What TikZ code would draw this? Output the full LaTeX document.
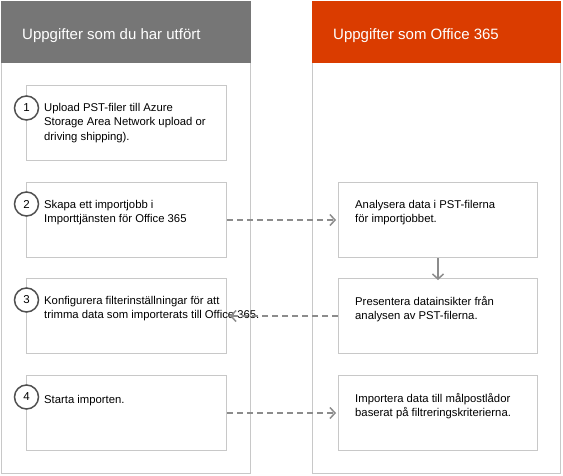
\documentclass[tikz,border=0pt]{standalone}
\usepackage{fontspec}
\setmainfont{Liberation Sans}
\usetikzlibrary{arrows.meta}
\definecolor{hdrgray}{RGB}{118,118,118}
\definecolor{hdrorange}{RGB}{218,60,0}
\definecolor{boxline}{RGB}{200,200,200}
\definecolor{circline}{RGB}{80,80,80}
\definecolor{arrgray}{RGB}{140,140,140}
\tikzset{
  colframe/.style={draw=boxline, line width=1pt, fill=white},
  stepbox/.style={draw=boxline, line width=1pt, fill=white, inner sep=0pt,
    minimum width=200pt, minimum height=75pt, anchor=north west},
  steptext/.style={anchor=north west, inner sep=0pt, align=left,
    font=\fontsize{11.3}{14.5}\selectfont, text=black,
    execute at begin node=\strut, yshift=9pt},
  hdrtext/.style={anchor=base west, inner sep=0pt, text=white,
    font=\fontsize{15}{18}\selectfont},
  num/.style={circle, draw=circline, line width=1.5pt, fill=white,
    minimum size=24pt, inner sep=0pt, font=\fontsize{11.5}{12}\selectfont},
  dasharrow/.style={draw=arrgray, line width=2pt, dash pattern=on 6pt off 4pt,
    -{Straight Barb[length=5pt,width=11pt,line width=1.5pt]}},
  solidarrow/.style={draw=arrgray, line width=1.5pt,
    -{Straight Barb[length=5pt,width=11pt,line width=1.5pt]}},
}
\begin{document}
\begin{tikzpicture}[x=1pt,y=-1pt]
\useasboundingbox (0,0) rectangle (563,475);
% columns
\draw[colframe] (1.5,1) rectangle (250,473);
\draw[colframe] (312,1) rectangle (560,473);
\fill[hdrgray] (1,0.5) rectangle (250.5,63);
\fill[hdrorange] (311.5,0.5) rectangle (560.5,63);
\node[hdrtext] (h1) at (22,39) {Uppgifter som du har utfört};
\node[hdrtext] (h2) at (333,39) {Uppgifter som Office 365};
% left boxes
\node[stepbox] (l1) at (26,85) {};
\node[stepbox] (l2) at (26,182) {};
\node[stepbox] (l3) at (26,278) {};
\node[stepbox] (l4) at (26,375) {};
% right boxes
\node[stepbox, minimum width=199pt] (r2) at (338,182) {};
\node[stepbox, minimum width=199pt] (r3) at (338,278) {};
\node[stepbox, minimum width=199pt] (r4) at (338,375) {};
% texts (positions are first baselines)
\node[steptext] (t1) at (44,112) {Upload PST-filer till Azure\\Storage Area Network upload or\\driving shipping).};
\node[steptext] (t2) at (44,209) {Skapa ett importjobb i\\Importtjänsten för Office 365};
\node[steptext] (t3) at (44,305) {Konfigurera filterinställningar för att\\trimma data som importerats till Office 365.};
\node[steptext] (t4) at (44,402) {Starta importen.};
\node[steptext] (s2) at (355,209) {Analysera data i PST-filerna\\för importjobbet.};
\node[steptext] (s3) at (355,305) {Presentera datainsikter från\\analysen av PST-filerna.};
\node[steptext] (s4) at (355,402) {Importera data till målpostlådor\\baserat på filtreringskriterierna.};
% numbers
\node[num] (c1) at (26.5,108) {1};
\node[num] (c2) at (26.5,204) {2};
\node[num] (c3) at (26.5,300) {3};
\node[num] (c4) at (26.5,397) {4};
% connectors
\draw[dasharrow] (l2.east) -- ([xshift=-2pt]r2.west);
\draw[dasharrow] (r3.west) -- ([xshift=3pt]l3.east);
\draw[dasharrow] (l4.east) -- ([xshift=-2pt]r4.west);
\draw[solidarrow] (r2.south) -- ([yshift=-2pt]r3.north);
\end{tikzpicture}
\end{document}
